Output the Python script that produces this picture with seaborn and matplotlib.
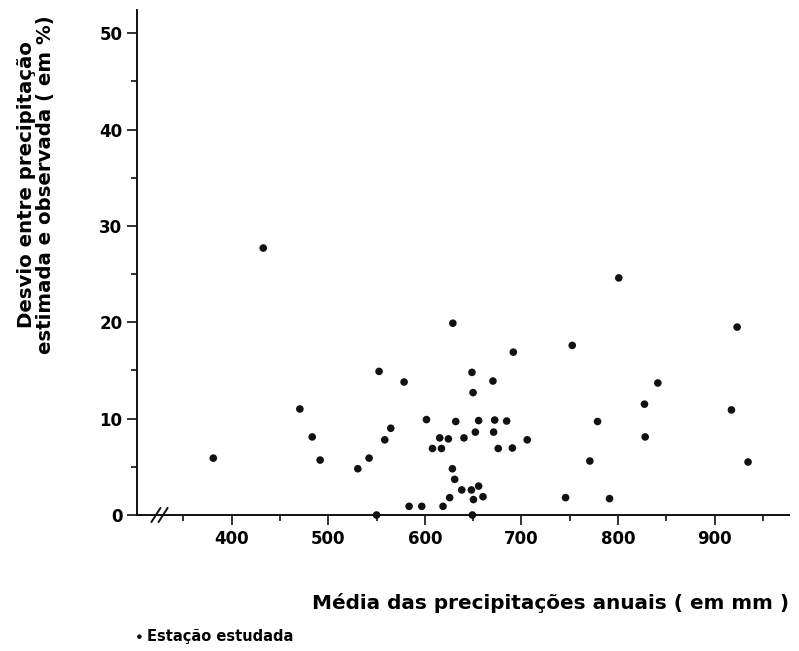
import matplotlib
matplotlib.use("Agg")
import matplotlib.pyplot as plt
import seaborn as sns
import pandas as pd
from matplotlib.ticker import MultipleLocator

# Data
precip_mm = [432.7, 381, 629, 552.6, 578.5, 470.6, 483.4, 491.6, 530.6, 542.3,
             558.5, 564.7, 601.7, 632, 615.4, 624.4, 607.9, 617.2, 640.5, 628.5,
             630.9, 638.2, 625.7, 618.8, 583.7, 596.8, 550, 752.6, 691.6, 648.8,
             670.5, 649.9, 655.7, 672.3, 684.7, 652.3, 671.2, 676, 690.6, 706,
             778.8, 770.8, 745.7, 791.2, 827.4, 828.1, 841.2, 917.4, 923.3, 934.6,
             648.2, 655.7, 650.3, 660.2, 649.2, 800.8]
desvio_pct = [27.7, 5.9, 19.9, 14.9, 13.8, 11.0, 8.1, 5.7, 4.8, 5.9,
              7.8, 9.0, 9.9, 9.7, 8.0, 7.9, 6.9, 6.9, 8.0, 4.8,
              3.7, 2.6, 1.8, 0.9, 0.9, 0.9, 0.0, 17.6, 16.9, 14.8,
              13.9, 12.7, 9.8, 9.85, 9.75, 8.6, 8.6, 6.9, 6.95, 7.8,
              9.7, 5.6, 1.8, 1.7, 11.5, 8.1, 13.7, 10.9, 19.5, 5.5,
              2.6, 3.0, 1.6, 1.9, 0.0, 24.6]
x_ticks = [400, 500, 600, 700, 800, 900]
y_ticks = [0, 10, 20, 30, 40, 50]

df = pd.DataFrame({"precip": precip_mm, "desvio": desvio_pct})

sns.set_theme(style="ticks")
plt.rcParams["font.family"] = ["DejaVu Sans"]
plt.rcParams["font.weight"] = "bold"
plt.rcParams["text.color"] = "black"
plt.rcParams["axes.labelcolor"] = "black"

fig = plt.figure(figsize=(7.99, 6.51), dpi=100)
ax = fig.add_axes([137 / 799, 1 - 515 / 651, 652 / 799, 505 / 651])

sns.scatterplot(data=df, x="precip", y="desvio", ax=ax, color="#111111",
                s=30, edgecolor="none", label="Estação estudada", clip_on=False,
                zorder=3)

ax.set_xlim(302, 977)
ax.set_ylim(0, 52.4)
ax.set_xticks(x_ticks)
ax.set_yticks(y_ticks)
ax.xaxis.set_minor_locator(MultipleLocator(50))
ax.yaxis.set_minor_locator(MultipleLocator(5))
for s in ["top", "right"]:
    ax.spines[s].set_visible(False)
for s in ["left", "bottom"]:
    ax.spines[s].set_linewidth(1.4)
    ax.spines[s].set_color("#111111")

ax.tick_params(which="major", direction="out", length=7, width=1.2,
               colors="#111111", labelcolor="black", labelsize=12)
ax.tick_params(which="minor", direction="out", length=4, width=1.2,
               colors="#111111")
for lab in ax.get_xticklabels() + ax.get_yticklabels():
    lab.set_fontweight("bold")

ax.set_xlabel("Média das precipitações anuais ( em mm )", fontsize=14.4,
              fontweight="bold", va="center")
ax.xaxis.set_label_coords(0.634, -0.174)
ax.set_ylabel("Desvio entre precipitação\nestimada e observada ( em %)",
              fontsize=14.2, fontweight="bold", va="center", linespacing=1.0)
ax.yaxis.set_label_coords(-0.155, 0.655)

# axis break marks on the x axis
for dx in (0.0, 0.011):
    ax.plot([0.022 + dx, 0.036 + dx], [-0.014, 0.014], transform=ax.transAxes,
            color="#111111", lw=1.4, clip_on=False)

ax.legend(loc="center left", bbox_to_anchor=(0.158, 0.023),
          bbox_transform=fig.transFigure, frameon=False, markerscale=0.6,
          handletextpad=0.1, handlelength=0.8, borderpad=0,
          prop={"size": 10.5, "weight": "bold"})

fig.savefig("out.png", dpi=100, facecolor="white")
